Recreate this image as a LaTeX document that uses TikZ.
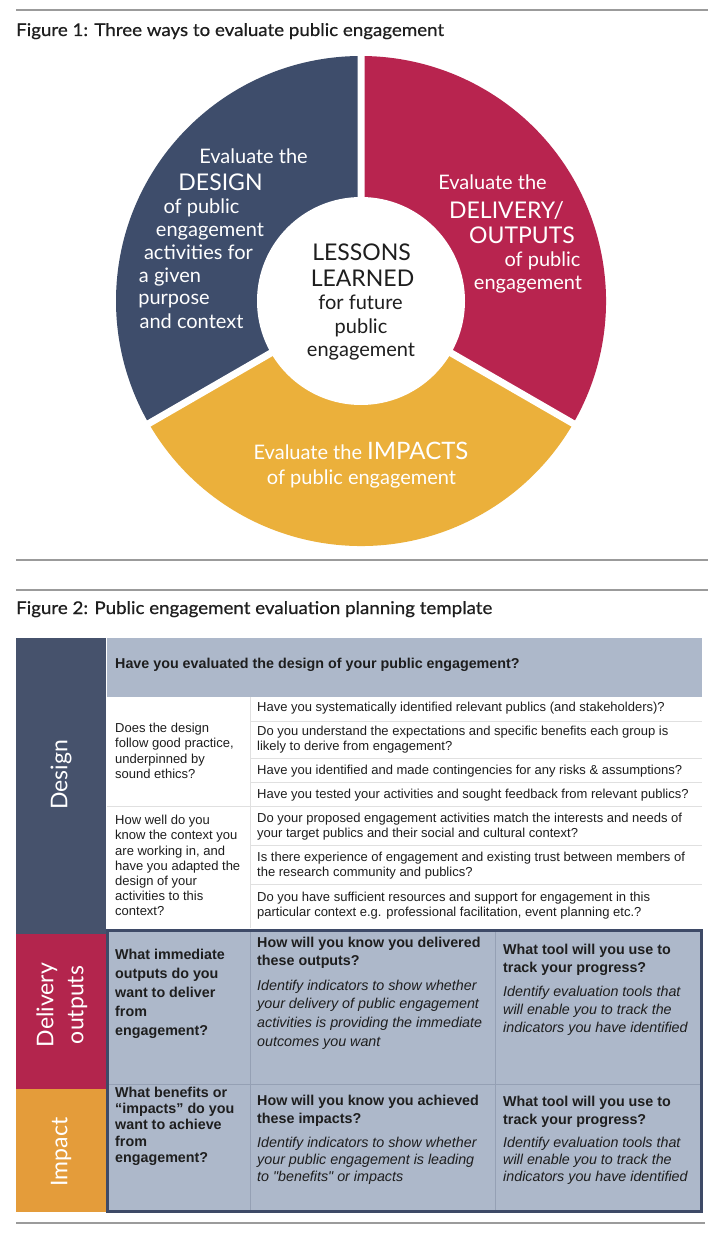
\documentclass[tikz,border=0pt]{standalone}
\usepackage{fontspec}
\setmainfont{Liberation Sans}
\newfontfamily\avfont{Lato}
\newfontfamily\avtitle[FakeBold=0.6,FakeStretch=1.07]{Lato}
\newfontfamily\arfont{Liberation Sans}
\newcommand\myfs[2]{\fontsize{#1}{#2}\selectfont}
\definecolor{cblue}{HTML}{3E4D6B}
\definecolor{cred}{HTML}{B8244F}
\definecolor{cgold}{HTML}{EBB03B}
\definecolor{tnavy}{HTML}{46526C}
\definecolor{tred}{HTML}{B3254D}
\definecolor{tgold}{HTML}{E49C3A}
\definecolor{tbg}{HTML}{ADB8CA}
\definecolor{tborder}{HTML}{3E4A67}
\definecolor{rulec}{HTML}{9B9B9B}
\definecolor{ink}{HTML}{1E1E1E}
\tikzset{
  rulel/.style={draw=rulec, line width=2.5pt},
  ttl/.style={font=\avtitle\myfs{17.5}{21}, text=ink, inner sep=0, anchor=base west},
  wsm/.style={font=\avfont\myfs{20}{24}, text=white, inner sep=0, anchor=base},
  wcap/.style={font=\avfont\myfs{23}{27}, text=white, inner sep=0, anchor=base},
  ksm/.style={wsm, text=ink},
  kcap/.style={wcap, text=ink},
  creg/.style={font=\arfont\myfs{13}{15.2}, text=ink, align=left, anchor=north west, inner sep=0},
  cbold/.style={font=\arfont\bfseries\myfs{14.3}{18}, text=ink, align=left, anchor=north west, inner sep=0},
  cital/.style={font=\arfont\itshape\myfs{14.3}{18}, text=ink, align=left, anchor=north west, inner sep=0},
  vlab/.style={font=\avfont\myfs{23}{30}, text=white, rotate=90, inner sep=0, align=center},
  faint/.style={draw=black!12, line width=0.8pt},
  faintb/.style={draw=tborder!22!tbg, line width=0.8pt},
}
\begin{document}
\begin{tikzpicture}[x=1pt,y=-1pt]
\useasboundingbox (0,0) rectangle (724,1236);
\fill[white] (0,0) rectangle (724,1236);

% rules
\draw[rulel] (16,10) -- (708,10);
\draw[rulel] (16,560) -- (708,560);
\draw[rulel] (16,590) -- (708,590);
\draw[rulel] (16,1223) -- (705,1223);

% ---------- Figure 1 ----------
\node[ttl] (t1) at (16,36) {Figure 1: Three ways to evaluate public engagement};

\begin{scope}[shift={(361,301)}]
  \fill[cblue] (0,0) -- (90:245pt) arc[start angle=90, end angle=210, radius=245pt] -- cycle;
  \fill[cred] (0,0) -- (-30:245pt) arc[start angle=-30, end angle=90, radius=245pt] -- cycle;
  \fill[cgold] (0,0) -- (210:245pt) arc[start angle=210, end angle=330, radius=245pt] -- cycle;
  \draw[white, line width=7pt] (0,0) -- (90:250pt) (0,0) -- (210:250pt) (0,0) -- (330:250pt);
  \fill[white] (0,0) circle[radius=104pt];
\end{scope}

% design segment
\node[wsm]  (b1) at (253.5,163.6) {Evaluate the};
\node[wcap] (b2) at (220.5,190.3) {DESIGN};
\node[wsm]  (b3) at (201.5,213.6) {of public};
\node[wsm]  (b4) at (210,236.6) {engagement};
\node[wsm]  (b5) at (198.5,259.6) {activities for};
\node[wsm]  (b6) at (170,282.6) {a given};
\node[wsm]  (b7) at (174,304.6) {purpose};
\node[wsm]  (b8) at (191.5,328.6) {and context};
% delivery segment
\node[wsm]  (r1) at (492.5,189.6) {Evaluate the};
\node[wcap] (r2) at (506.5,218.3) {DELIVERY/};
\node[wcap] (r3) at (522,243.3) {OUTPUTS};
\node[wsm]  (r4) at (542.5,266.6) {of public};
\node[wsm]  (r5) at (528,289.6) {engagement};
% centre
\node[kcap] (c1) at (361.5,260.3) {LESSONS};
\node[kcap] (c2) at (362.5,286.3) {LEARNED};
\node[ksm]  (c3) at (360.5,309.6) {for future};
\node[ksm]  (c4) at (361,333.6) {public};
\node[ksm]  (c5) at (361,356.6) {engagement};
% impacts segment
\node[wsm]  (y1) at (361,459.6) {Evaluate the {\myfs{24}{28}IMPACTS}};
\node[wsm]  (y2) at (361.5,484.6) {of public engagement};

% ---------- Figure 2 ----------
\node[ttl] (t2) at (16,614) {Figure 2: Public engagement evaluation planning template};

% label column
\fill[tnavy] (16,638) rectangle (106,934);
\fill[tred] (16,934) rectangle (106,1089);
\fill[tgold] (16,1089) rectangle (106,1212);
\node[vlab] (ldes) at (61,775) {Design};
\node[vlab] (ldel) at (62,1005) {Delivery\\outputs};
\node[vlab] (limp) at (61,1152) {Impact};

% design block
\fill[tbg] (107,638) rectangle (702,697);
\node[cbold] (hdr) at (115,657.6) {Have you evaluated the design of your public engagement?};
\draw[faint] (250,697) -- (250,928);
\foreach \yy in {721,758,782,845,884} { \draw[faint] (250,\yy) -- (702,\yy); }
\draw[faint] (107,806) -- (702,806);

\node[creg] (dq1) at (115,723) {Does the design\\follow good practice,\\underpinned by\\sound ethics?};
\node[creg] (dq2) at (115,815) {How well do you\\know the context you\\are working in, and\\have you adapted the\\design of your\\activities to this\\context?};

\node[creg] (q1) at (257,702) {Have you systematically identified relevant publics (and stakeholders)?};
\node[creg] (q2) at (257,725.5) {Do you understand the expectations and specific benefits each group is\\likely to derive from engagement?};
\node[creg] (q3) at (257,765) {Have you identified and made contingencies for any risks \& assumptions?};
\node[creg] (q4) at (257,789) {Have you tested your activities and sought feedback from relevant publics?};
\node[creg] (q5) at (257,813) {Do your proposed engagement activities match the interests and needs of\\your target publics and their social and cultural context?};
\node[creg] (q6) at (257,852) {Is there experience of engagement and existing trust between members of\\the research community and publics?};
\node[creg] (q7) at (257,892) {Do you have sufficient resources and support for engagement in this\\particular context e.g. professional facilitation, event planning etc.?};

% delivery + impact block
\fill[tbg] (107,930) rectangle (702,1212);
\draw[faintb] (250,931) -- (250,1211);
\draw[faintb] (495,931) -- (495,1211);
\draw[faintb] (108,1084) -- (701,1084);
\draw[tborder, line width=3pt] (107.5,930.5) rectangle (701.5,1211.5);

\node[cbold, font=\arfont\bfseries\myfs{14.3}{19}] (d2) at (115,948.6) {What immediate\\outputs do you\\want to deliver\\from\\engagement?};
\node[cbold] (d3h) at (257,936.6) {How will you know you delivered\\these outputs?};
\node[cital, font=\arfont\itshape\myfs{14.3}{18.7}] (d3b) at (257,979.6) {Identify indicators to show whether\\your delivery of public engagement\\activities is providing the immediate\\outcomes you want};
\node[cbold] (d4h) at (503,943.6) {What tool will you use to\\track your progress?};
\node[cital] (d4b) at (503,985.6) {Identify evaluation tools that\\will enable you to track the\\indicators you have identified};

\node[cbold, font=\arfont\bfseries\myfs{14.3}{16.4}] (i2) at (115,1086.6) {What benefits or\\“impacts” do you\\want to achieve\\from\\engagement?};
\node[cbold] (i3h) at (257,1094.6) {How will you know you achieved\\these impacts?};
\node[cital, font=\arfont\itshape\myfs{14.3}{17}] (i3b) at (257,1136.6) {Identify indicators to show whether\\your public engagement is leading\\to "benefits" or impacts};
\node[cbold] (i4h) at (503,1095.6) {What tool will you use to\\track your progress?};
\node[cital, font=\arfont\itshape\myfs{14.3}{17}] (i4b) at (503,1136.6) {Identify evaluation tools that\\will enable you to track the\\indicators you have identified};
\end{tikzpicture}
\end{document}
